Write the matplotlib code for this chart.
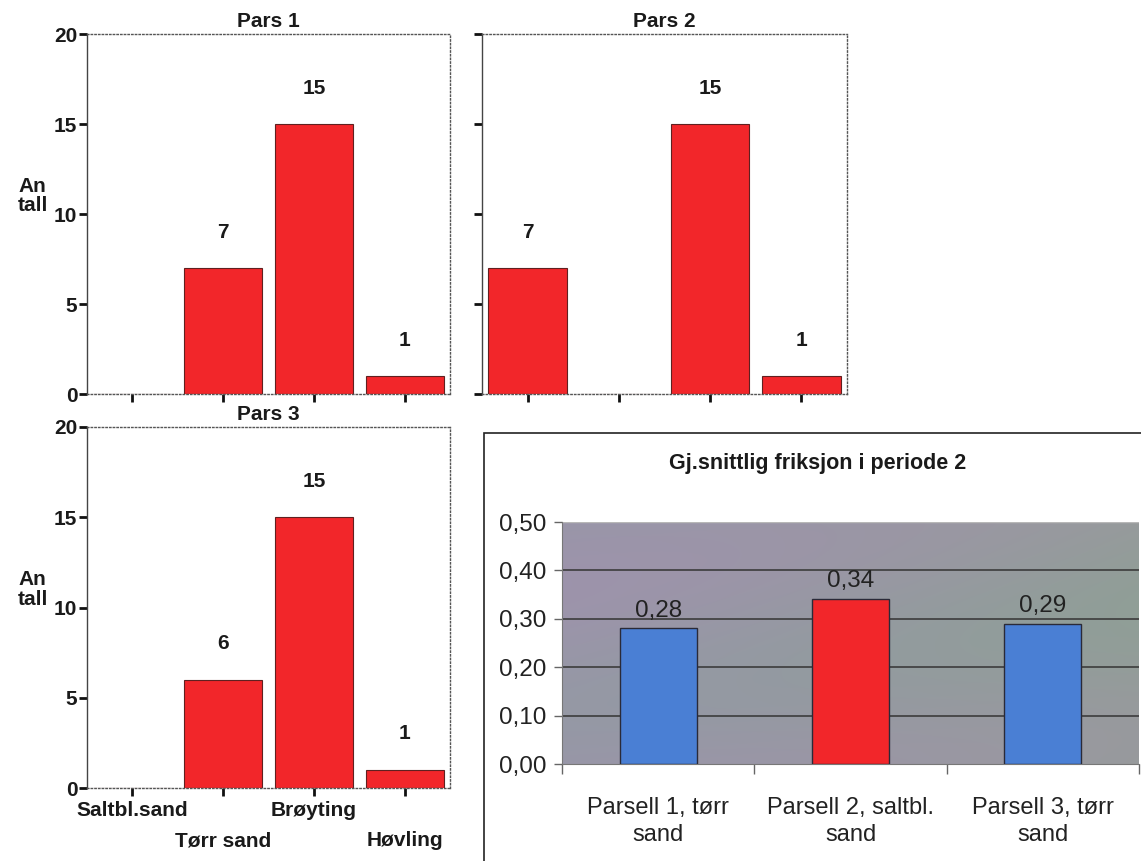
import numpy as np
import matplotlib
matplotlib.use("Agg")
import matplotlib.pyplot as plt
from matplotlib.patches import Rectangle

plt.rcParams['font.family'] = ['Liberation Sans', 'DejaVu Sans']

W, H = 1141, 861

# counts per treatment, one panel per parcel
categories = ['Saltbl.sand', 'Tørr sand', 'Brøyting', 'Høvling']
pars1 = [0, 7, 15, 1]
pars2 = [7, 0, 15, 1]
pars3 = [0, 6, 15, 1]
y_ticks = [0, 5, 10, 15, 20]

# mean friction, period 2
parceller = ['Parsell 1, tørr\nsand', 'Parsell 2, saltbl.\nsand', 'Parsell 3, tørr\nsand']
friksjon = [0.28, 0.34, 0.29]
friksjon_ticks = [0.0, 0.1, 0.2, 0.3, 0.4, 0.5]

RED = '#f2262a'
BLUE = '#4a7fd4'
BOLD = 15


def px_axes(fig, x0, y0, x1, y1):
    # pixel box (top-left origin) -> figure axes
    return fig.add_axes([x0 / W, 1 - y1 / H, (x1 - x0) / W, (y1 - y0) / H])


def count_panel(ax, values, title, ylabels=True, xlabels=False):
    x = np.arange(len(values))
    ax.bar(x, values, width=0.86, color=RED, edgecolor='#602020', linewidth=0.8)
    for xi, v in zip(x, values):
        if v > 0:
            ax.text(xi, v + 2, str(v), ha='center', va='center',
                    fontsize=BOLD, fontweight='bold', color='#1a1a1a')
    ax.set_xlim(-0.5, len(values) - 0.5)
    ax.set_ylim(0, 20)
    ax.set_yticks(y_ticks)
    ax.set_xticks(x)
    ax.tick_params(axis='both', direction='out', length=6, width=2, color='#111111')
    ax.tick_params(axis='y', pad=1)
    if ylabels:
        ax.set_yticklabels([str(t) for t in y_ticks], fontsize=BOLD, fontweight='bold', color='#1a1a1a')
        ax.text(-0.15, 0.55, 'An\ntall', transform=ax.transAxes, ha='center', va='center',
                fontsize=BOLD, fontweight='bold', color='#1a1a1a', linespacing=1.05)
    else:
        ax.set_yticklabels([])
    ax.set_xticklabels([])
    if xlabels:
        for i, lab in enumerate(categories):
            dy = -9 if i % 2 == 0 else -31
            ax.annotate(lab, xy=(i, 0), xycoords=('data', 'axes fraction'),
                        xytext=(0, dy), textcoords='offset points', ha='center', va='top',
                        fontsize=BOLD, fontweight='bold', color='#1a1a1a')
    for side in ['top', 'right', 'bottom']:
        ax.spines[side].set_linestyle(':')
        ax.spines[side].set_color('#555555')
        ax.spines[side].set_linewidth(1)
    ax.spines['left'].set_color('#444444')
    ax.spines['left'].set_linewidth(1)
    ax.set_title(title, fontsize=BOLD, fontweight='bold', color='#1a1a1a', pad=5)


fig = plt.figure(figsize=(W / 100, H / 100), dpi=100)
fig.patch.set_facecolor('white')

ax1 = px_axes(fig, 87, 34, 450, 394)
count_panel(ax1, pars1, 'Pars 1')
ax2 = px_axes(fig, 482, 34, 847, 394)
count_panel(ax2, pars2, 'Pars 2', ylabels=False)
ax3 = px_axes(fig, 87, 427, 450, 788)
count_panel(ax3, pars3, 'Pars 3', xlabels=True)

# framed friction chart in the lower right
fig.patches.append(Rectangle((484 / W, -0.05), 1.0, 1 - 433 / H + 0.05,
                             transform=fig.transFigure, fill=False,
                             edgecolor='#222222', linewidth=1.2, zorder=0))
fig.text(818 / W, 1 - 463 / H, 'Gj.snittlig friksjon i periode 2', ha='center', va='center',
         fontsize=15.5, fontweight='bold', color='#1a1a1a')

ax4 = px_axes(fig, 562, 522, 1139, 764)
# textured grey-mauve plot area fill
gx = np.linspace(0, 1, 200)
gy = np.linspace(0, 1, 100)
GX, GY = np.meshgrid(gx, gy)
left_c = np.array([153, 150, 168]) / 255
right_c = np.array([148, 156, 154]) / 255
mix = (GX ** 1.3)[..., None]
img = left_c * (1 - mix) + right_c * mix
img += (0.015 * np.sin(GY * 6.0 + GX * 2.5))[..., None] * np.array([1.0, -0.6, 0.8])
ax4.imshow(np.clip(img, 0, 1), extent=(0, 1, 0, 1), transform=ax4.transAxes,
           aspect='auto', zorder=0, interpolation='bilinear')

xf = np.arange(len(friksjon))
ax4.bar(xf, friksjon, width=0.40, color=[BLUE, RED, BLUE],
        edgecolor='#2a2a38', linewidth=1, zorder=3)
for xi, v in zip(xf, friksjon):
    ax4.annotate(('%.2f' % v).replace('.', ','), xy=(xi, v), xytext=(0, 5),
                 textcoords='offset points', ha='center', va='bottom',
                 fontsize=17.5, color='#222222', zorder=4)
ax4.set_xlim(-0.5, len(friksjon) - 0.5)
ax4.set_ylim(0, 0.5)
for t in friksjon_ticks[1:-1]:
    ax4.axhline(t, color='#3c3c3c', linewidth=1.2, zorder=1)
ax4.axhline(0.5, color='#b8b8b8', linewidth=1, zorder=1)
ax4.set_yticks(friksjon_ticks)
ax4.set_yticklabels([('%.2f' % t).replace('.', ',') for t in friksjon_ticks],
                    fontsize=17.5, color='#222222')
ax4.set_xticks(np.arange(len(friksjon) + 1) - 0.5, minor=False)
ax4.set_xticklabels([])
ax4.set_xticks(xf, minor=True)
ax4.set_xticklabels(parceller, minor=True, fontsize=17, color='#222222', linespacing=1.25)
ax4.tick_params(axis='x', which='minor', length=0, pad=24)
ax4.tick_params(axis='x', which='major', length=7, width=1, color='#666666')
ax4.tick_params(axis='y', length=6, width=1, color='#666666', pad=5)
for side in ['top', 'right']:
    ax4.spines[side].set_visible(False)
ax4.spines['left'].set_color('#777777')
ax4.spines['bottom'].set_color('#777777')

fig.savefig('out.png', dpi=100)
